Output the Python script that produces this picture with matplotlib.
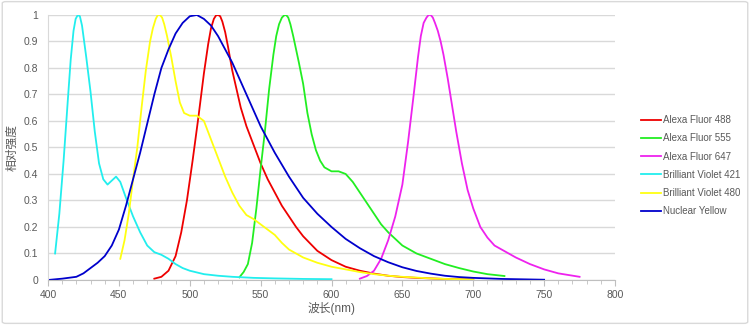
import numpy as np
import matplotlib
matplotlib.use('Agg')
import matplotlib.pyplot as plt
from matplotlib.patches import FancyBboxPatch
from matplotlib.ticker import MultipleLocator, FuncFormatter

plt.rcParams['font.family'] = ['Liberation Sans', 'Noto Sans CJK SC']
plt.rcParams['axes.unicode_minus'] = False

# 读图得到的光谱数据 (波长 nm, 相对强度)
af488_nm = [475, 480, 485, 490, 494, 498, 502, 506, 510, 513, 515, 517, 518.5, 520, 521.5, 523, 525,
            527, 530, 533, 536, 540, 545, 550, 555, 560, 565, 570, 575, 580, 590, 600, 610, 620, 630,
            640, 650, 660, 680, 700]
af488_val = [0.005, 0.012, 0.035, 0.09, 0.18, 0.30, 0.45, 0.61, 0.78, 0.89, 0.95, 0.985, 0.998, 1.0,
             0.995, 0.975, 0.935, 0.88, 0.79, 0.72, 0.65, 0.58, 0.51, 0.44, 0.38, 0.33, 0.28, 0.24,
             0.20, 0.165, 0.11, 0.075, 0.05, 0.035, 0.024, 0.016, 0.011, 0.008, 0.004, 0.002]

af555_nm = [535, 538, 541, 544, 547, 550, 553, 556, 559, 561, 563, 565, 566.5, 568, 569.5, 571, 573,
            575, 577, 580, 583, 586, 589, 592, 595, 600, 605, 610, 615, 620, 625, 630, 635, 640, 650,
            660, 670, 680, 690, 700, 710, 722]
af555_val = [0.01, 0.03, 0.06, 0.14, 0.27, 0.42, 0.56, 0.72, 0.85, 0.92, 0.965, 0.99, 0.998, 1.0,
             0.99, 0.965, 0.92, 0.87, 0.82, 0.74, 0.63, 0.55, 0.49, 0.45, 0.425, 0.41, 0.41, 0.40,
             0.37, 0.33, 0.29, 0.25, 0.21, 0.18, 0.13, 0.10, 0.08, 0.06, 0.045, 0.032, 0.022, 0.015]

af647_nm = [620, 625, 630, 635, 640, 645, 650, 654, 658, 661, 663, 665, 667, 668.5, 670, 671.5, 673,
            675, 677, 679, 682, 685, 688, 692, 696, 700, 705, 710, 715, 720, 725, 730, 740, 750, 760,
            775]
af647_val = [0.005, 0.015, 0.035, 0.08, 0.15, 0.24, 0.36, 0.52, 0.70, 0.84, 0.92, 0.97, 0.99, 1.0,
             1.0, 0.99, 0.97, 0.94, 0.9, 0.85, 0.76, 0.66, 0.56, 0.44, 0.34, 0.27, 0.2, 0.16, 0.13,
             0.115, 0.10, 0.085, 0.06, 0.04, 0.025, 0.012]

bv421_nm = [405, 408, 411, 414, 416, 418, 419.5, 421, 422.5, 424, 425.5, 427, 430, 433, 436, 439, 442,
            445, 448, 451, 455, 460, 465, 470, 475, 480, 485, 490, 495, 500, 510, 520, 530, 545, 560,
            580, 600]
bv421_val = [0.10, 0.25, 0.45, 0.68, 0.83, 0.94, 0.985, 1.0, 0.995, 0.96, 0.9, 0.84, 0.71, 0.56, 0.44,
             0.38, 0.36, 0.375, 0.39, 0.37, 0.31, 0.24, 0.18, 0.13, 0.105, 0.095, 0.08, 0.06, 0.045,
             0.035, 0.022, 0.016, 0.012, 0.008, 0.006, 0.004, 0.003]

bv480_nm = [451, 454, 457, 460, 463, 466, 469, 472, 474, 476, 477.5, 479, 480.5, 482, 484, 487, 490,
            493, 496, 500, 505, 510, 515, 520, 525, 530, 535, 540, 545, 550, 555, 560, 565, 570, 580,
            590, 600, 610, 620, 630, 640, 650, 660, 670, 680, 690, 700]
bv480_val = [0.08, 0.15, 0.25, 0.38, 0.50, 0.65, 0.79, 0.9, 0.95, 0.985, 1.0, 1.0, 0.99, 0.965, 0.92,
             0.84, 0.75, 0.67, 0.63, 0.62, 0.62, 0.60, 0.53, 0.46, 0.39, 0.33, 0.28, 0.245, 0.23, 0.21,
             0.19, 0.17, 0.14, 0.115, 0.085, 0.065, 0.05, 0.04, 0.03, 0.022, 0.016, 0.012, 0.009,
             0.006, 0.004, 0.003, 0.002]

ny_nm = [400, 410, 420, 425, 430, 435, 440, 445, 450, 455, 460, 465, 470, 475, 480, 485, 490, 495, 500,
         505, 510, 515, 520, 525, 530, 535, 540, 545, 550, 560, 570, 580, 590, 600, 610, 620, 630, 640,
         650, 660, 670, 680, 690, 700, 720, 750]
ny_val = [0.0, 0.005, 0.012, 0.025, 0.045, 0.065, 0.09, 0.13, 0.19, 0.28, 0.38, 0.48, 0.59, 0.70, 0.80,
          0.87, 0.93, 0.97, 0.995, 1.0, 0.985, 0.96, 0.92, 0.87, 0.82, 0.76, 0.70, 0.64, 0.58, 0.48,
          0.39, 0.31, 0.25, 0.20, 0.155, 0.12, 0.09, 0.067, 0.048, 0.034, 0.024, 0.016, 0.011, 0.008,
          0.004, 0.001]

series = [
    ("Alexa Fluor 488", af488_nm, af488_val, '#ee0000'),
    ("Alexa Fluor 555", af555_nm, af555_val, '#22ee22'),
    ("Alexa Fluor 647", af647_nm, af647_val, '#ee22ee'),
    ("Brilliant Violet 421", bv421_nm, bv421_val, '#22eeee'),
    ("Brilliant Violet 480", bv480_nm, bv480_val, '#ffff11'),
    ("Nuclear Yellow", ny_nm, ny_val, '#0000cc'),
]

fig = plt.figure(figsize=(7.5, 3.25), dpi=100)
ax = fig.add_axes([0.064, 0.1385, 0.756, 0.8155])

# 外框
fig.patches.append(FancyBboxPatch((0.003, 0.005), 0.994, 0.99, boxstyle="round,pad=0,rounding_size=0.005",
                                  transform=fig.transFigure, fill=False, edgecolor='#d9d9d9', lw=1))

for name, x, y, c in series:
    ax.plot(x, y, color=c, lw=1.3, label=name)

ax.set_xlim(400, 800)
ax.set_ylim(0, 1)
ax.xaxis.set_major_locator(MultipleLocator(50))
ax.xaxis.set_minor_locator(MultipleLocator(10))
ax.yaxis.set_major_locator(MultipleLocator(0.1))
ax.yaxis.set_major_formatter(FuncFormatter(lambda v, p: f"{v:g}"))

ax.grid(axis='y', color='#d9d9d9', lw=1)
ax.set_axisbelow(True)
for s in ['top', 'right']:
    ax.spines[s].set_visible(False)
ax.spines['left'].set_color('#d9d9d9')
ax.spines['bottom'].set_color('#bfbfbf')
ax.tick_params(axis='x', which='major', length=4, color='#bfbfbf', labelsize=7.5, labelcolor='#595959', pad=3)
ax.tick_params(axis='x', which='minor', length=3, color='#bfbfbf')
ax.tick_params(axis='y', length=0, labelsize=7.5, labelcolor='#595959', pad=7)

ax.set_xlabel("波长(nm)", fontsize=8.5, color='#595959')
ax.set_ylabel("相对强度", fontsize=8.5, color='#595959')
ax.xaxis.set_label_coords(0.5, -0.083)
ax.yaxis.set_label_coords(-0.052, 0.5)

fig.legend(loc='center left', bbox_to_anchor=(0.843, 0.49), frameon=False, fontsize=7,
           handlelength=2.1, handletextpad=0.2, labelspacing=0.85, labelcolor='#595959')

fig.savefig('out.png', dpi=100)
